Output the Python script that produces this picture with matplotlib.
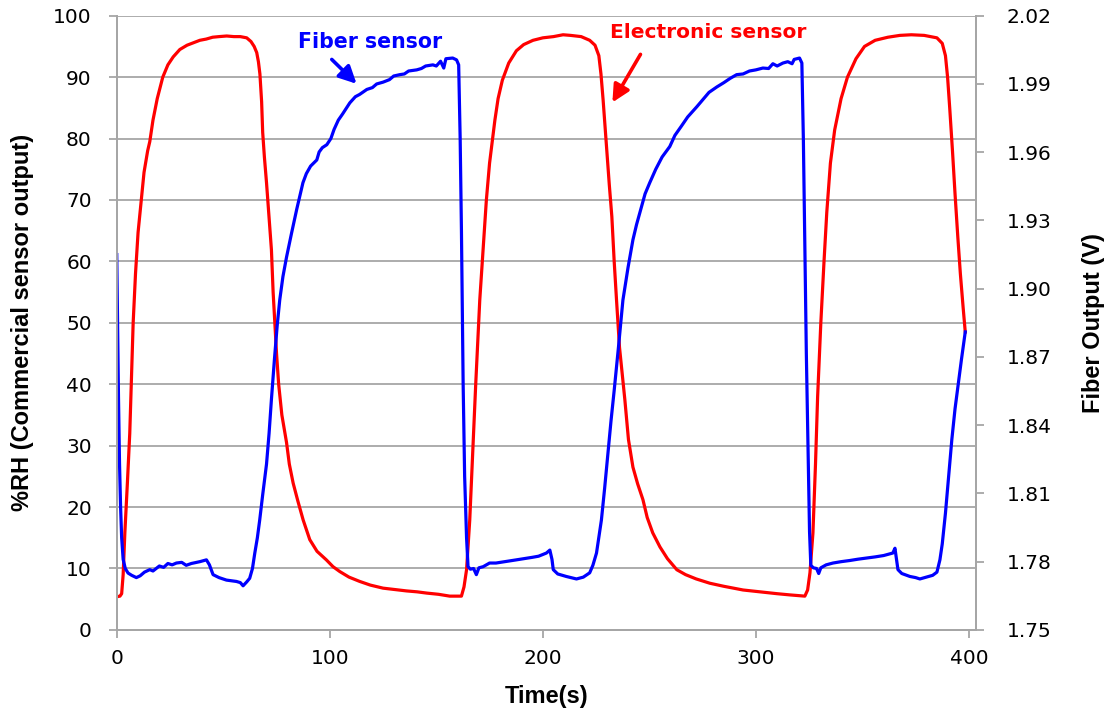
import matplotlib
matplotlib.use("Agg")
import matplotlib.pyplot as plt
import numpy as np

# Electronic (commercial) humidity sensor, %RH
rh_time = [0, 1.5, 2.3, 3.0, 3.8, 5.0, 6.1, 7.0, 7.7, 8.8, 10, 11.5, 12.8, 14.5, 15.5,
           17, 19, 21.6, 24, 26.5, 29.6, 33, 36, 39, 42, 45, 48, 51.6, 55, 58, 61,
           63, 64.5, 65.7, 66.5, 67.2, 68, 68.5, 69.3, 70.3, 71.5, 72.6, 73.4, 74.2,
           75, 76, 77.5, 79.7, 81, 82.8, 85, 87.5, 90.6, 94, 98.4, 101.5, 104.7, 109,
           114, 119, 125, 130, 136, 141, 145.4, 151, 156.3, 161.8, 163, 164.2, 165.7,
           167, 168.5, 170.4, 172, 173.5, 175, 177.5, 179, 181, 184, 187.6, 191,
           195.4, 200, 205, 209.5, 213, 218, 222, 224.5, 226.3, 227.3, 228.3, 229.2,
           230, 231.2, 232.4, 233.5, 234.6, 236, 238.5, 240.2, 242.3, 244.5, 247,
           249, 251.6, 255, 258.5, 262.9, 267, 272, 278.4, 285, 294, 302, 309.9,
           316, 323, 324.3, 325.4, 326.8, 328, 329, 330.5, 332, 333.3, 335, 337, 340,
           343, 347, 351, 356, 362, 367.6, 373, 379, 385, 387.5, 389, 390, 391,
           392.3, 393.5, 394.8, 396, 397.3, 398.3]
rh_value = [5.4, 5.5, 5.9, 9.0, 15.8, 24, 32, 42, 50, 58, 64.7, 70, 74.5, 78, 79.5,
            83, 86.5, 90, 92, 93.3, 94.5, 95.2, 95.6, 96.0, 96.2, 96.5, 96.6, 96.7,
            96.6, 96.6, 96.4, 95.8, 95.0, 94.0, 92.5, 90.5, 86, 81, 77, 72.8, 67,
            61.9, 55, 50, 45, 40, 35, 30.5, 27, 23.9, 21, 17.9, 14.7, 12.8, 11.4,
            10.3, 9.5, 8.6, 7.9, 7.3, 6.8, 6.6, 6.35, 6.2, 6.0, 5.8, 5.5, 5.5, 7.0,
            9.8, 17.9, 28, 40, 53.7, 62, 70, 76, 83, 86.5, 89.5, 92.3, 94.3, 95.3,
            96.0, 96.4, 96.6, 96.9, 96.8, 96.6, 96.0, 95.2, 93.5, 90.5, 86.3, 82,
            78, 72.5, 67.3, 60, 53.7, 46, 37.5, 31, 26.5, 23.8, 21.2, 18.3, 15.8,
            13.5, 11.6, 9.8, 9.0, 8.3, 7.6, 7.1, 6.5, 6.2, 5.9, 5.7, 5.5, 6.5, 9.3,
            15.8, 27, 38, 50, 60, 68, 76, 81.4, 86.5, 90, 93, 95, 96, 96.5, 96.8,
            96.9, 96.8, 96.4, 95.5, 93.5, 90, 85, 78, 71, 64, 58, 52.5, 48.5]

# Fiber sensor output, volts
fiber_time = [0, 0.4, 0.8, 1.3, 1.8, 2.3, 3.0, 4.0, 5.3, 7, 9.2, 11, 13, 15.5, 17, 20,
              22, 24, 26, 28, 30.5, 32.6, 35, 39, 42.1, 43.5, 45.2, 48, 51.5, 54,
              56.2, 58, 59.3, 61, 62.4, 63.7, 64.8, 66, 67.1, 68.5, 70.3, 71.5, 72.6,
              74, 75.3, 76.5, 78, 79.7, 82, 84.5, 87.4, 89, 91, 93.9, 95, 96.5, 98.6,
              100.5, 102, 104, 106, 109.4, 112, 114, 117.4, 120, 122, 125, 128, 130,
              132.9, 135, 137, 140.8, 143, 145, 148.4, 150, 152, 153.5, 154.5, 157.7,
              159.5, 160.5, 161.2, 161.8, 162.6, 163.3, 164.2, 164.9, 166, 167.5,
              168.8, 170, 172, 175, 178, 182, 187.6, 191, 195, 198, 201.7, 203.3,
              204.3, 204.9, 207, 211, 215.8, 219, 222, 223.5, 225.2, 227.5, 229,
              230.5, 232, 233.5, 235.5, 237.6, 240, 242.3, 244, 246, 248, 250.2, 253,
              256, 259.6, 262, 265, 268, 272.3, 275, 278, 281.7, 285, 288, 291, 294,
              297, 300, 303.3, 306, 308, 310, 312.7, 315, 317, 318, 319.2, 320.5,
              321.6, 322.3, 323, 323.7, 324.5, 325.2, 325.8, 327, 328.5, 329.5, 330.5,
              333, 336.2, 340, 344, 348, 352, 356, 360, 364.3, 365.3, 366.2, 366.7,
              368.5, 372.3, 375, 377, 380, 383, 385, 386.4, 387.5, 389, 390.5, 392,
              393.5, 395, 396.5, 398.3]
fiber_volts = [1.915, 1.885, 1.853, 1.823, 1.804, 1.7905, 1.781, 1.777, 1.775, 1.774,
               1.773, 1.7738, 1.7754, 1.7765, 1.7759, 1.7781, 1.7775, 1.7792, 1.7786,
               1.7794, 1.7797, 1.7784, 1.7792, 1.780, 1.7808, 1.7786, 1.7743, 1.773,
               1.7719, 1.7716, 1.7713, 1.7708, 1.7694, 1.7711, 1.7727, 1.777, 1.7838,
               1.7905, 1.7983, 1.8094, 1.8229, 1.8364, 1.8513, 1.8688, 1.8837, 1.895,
               1.9053, 1.9139, 1.9242, 1.935, 1.9466, 1.9506, 1.9539, 1.9566, 1.9601,
               1.962, 1.9633, 1.966, 1.970, 1.9741, 1.9768, 1.9817, 1.9844, 1.9854,
               1.9876, 1.9884, 1.990, 1.9908, 1.9919, 1.9935, 1.9941, 1.9944, 1.9957,
               1.9962, 1.9968, 1.9979, 1.9984, 1.9979, 2.000, 1.997, 2.0011, 2.0014,
               2.0006, 1.9984, 1.966, 1.9255, 1.858, 1.8175, 1.7905, 1.7778, 1.7767,
               1.777, 1.7743, 1.7773, 1.7778, 1.7794, 1.7794, 1.780, 1.7808, 1.7813,
               1.7819, 1.7824, 1.7838, 1.7851, 1.781, 1.7765, 1.7746, 1.7735, 1.7724,
               1.7732, 1.7751, 1.7784, 1.7838, 1.7983, 1.8121, 1.827, 1.8418, 1.8553,
               1.8742, 1.895, 1.9093, 1.9215, 1.9282, 1.935, 1.9417, 1.9466, 1.9525,
               1.9579, 1.9625, 1.9674, 1.9714, 1.9755, 1.980, 1.983, 1.9863, 1.9887,
               1.9906, 1.9925, 1.9941, 1.9944, 1.9957, 1.9962, 1.997, 1.9968, 1.9989,
               1.9979, 1.9992, 1.9998, 1.9989, 2.0008, 2.0011, 2.0014, 1.9992, 1.966,
               1.9174, 1.8715, 1.831, 1.7932, 1.7784, 1.7773, 1.777, 1.7748, 1.7773,
               1.7786, 1.7794, 1.780, 1.7805, 1.7811, 1.7816, 1.7821, 1.7827, 1.7838,
               1.7859, 1.7797, 1.7765, 1.7748, 1.7735, 1.773, 1.7724, 1.7732, 1.774,
               1.7754, 1.7808, 1.7878, 1.8013, 1.8175, 1.8337, 1.8472, 1.858, 1.8688,
               1.881]

rh_ticks = list(range(0, 101, 10))
volt_ticks = [1.75, 1.78, 1.81, 1.84, 1.87, 1.90, 1.93, 1.96, 1.99, 2.02]
time_ticks = [0, 100, 200, 300, 400]

GRAY = '#a6a6a6'
label_font = ['Liberation Sans', 'DejaVu Sans']

fig = plt.figure(figsize=(11.12, 7.15), dpi=100)
ax = fig.add_axes([0.105, 0.119, 0.773, 0.859])
ax2 = ax.twinx()

ax.plot(rh_time, rh_value, color='#ff0000', lw=2.3, solid_joinstyle='round')
ax2.plot(fiber_time, fiber_volts, color='#0000ff', lw=2.3, solid_joinstyle='round')

ax.set_xlim(0, 403.5)
ax.set_ylim(0, 100)
ax2.set_ylim(1.75, 2.02)
ax.set_xticks(time_ticks)
ax.set_yticks(rh_ticks)
ax2.set_yticks(volt_ticks)
ax2.set_yticklabels(['%.2f' % v for v in volt_ticks])

ax.grid(axis='y', color=GRAY, lw=1.3)
ax.set_axisbelow(True)
for a in (ax, ax2):
    a.spines['top'].set_visible(False)
    for s in ('left', 'right', 'bottom'):
        a.spines[s].set_color(GRAY)
        a.spines[s].set_linewidth(1.3)
    a.tick_params(colors=GRAY, labelcolor='black', labelsize=14.5, length=6, width=1.3)
ax.tick_params(axis='y', pad=12)
ax.tick_params(axis='x', pad=8)
ax2.tick_params(axis='y', pad=16)

ax.set_xlabel('Time(s)', fontsize=17, fontweight='bold', family=label_font, labelpad=12)
ax.set_ylabel('%RH (Commercial sensor output)', fontsize=17, fontweight='bold',
              family=label_font, labelpad=14)
ax2.set_ylabel('Fiber Output (V)', fontsize=17, fontweight='bold', family=label_font,
               labelpad=22)

arrow = dict(arrowstyle='-|>', lw=2.6, mutation_scale=26)
ax.annotate('', xy=(113.5, 88.6), xytext=(100, 93.2),
            arrowprops=dict(arrow, color='#0000ff'))
ax.text(118.8, 95.8, 'Fiber sensor', color='#0000ff', fontsize=14.8, fontweight='bold',
        ha='center', va='center')
ax.annotate('', xy=(232, 85.5), xytext=(246.5, 94.1),
            arrowprops=dict(arrow, color='#ff0000'))
ax.text(277.5, 97.2, 'Electronic sensor', color='#ff0000', fontsize=14.5,
        fontweight='bold', ha='center', va='center')

fig.savefig('out.png', dpi=100)
